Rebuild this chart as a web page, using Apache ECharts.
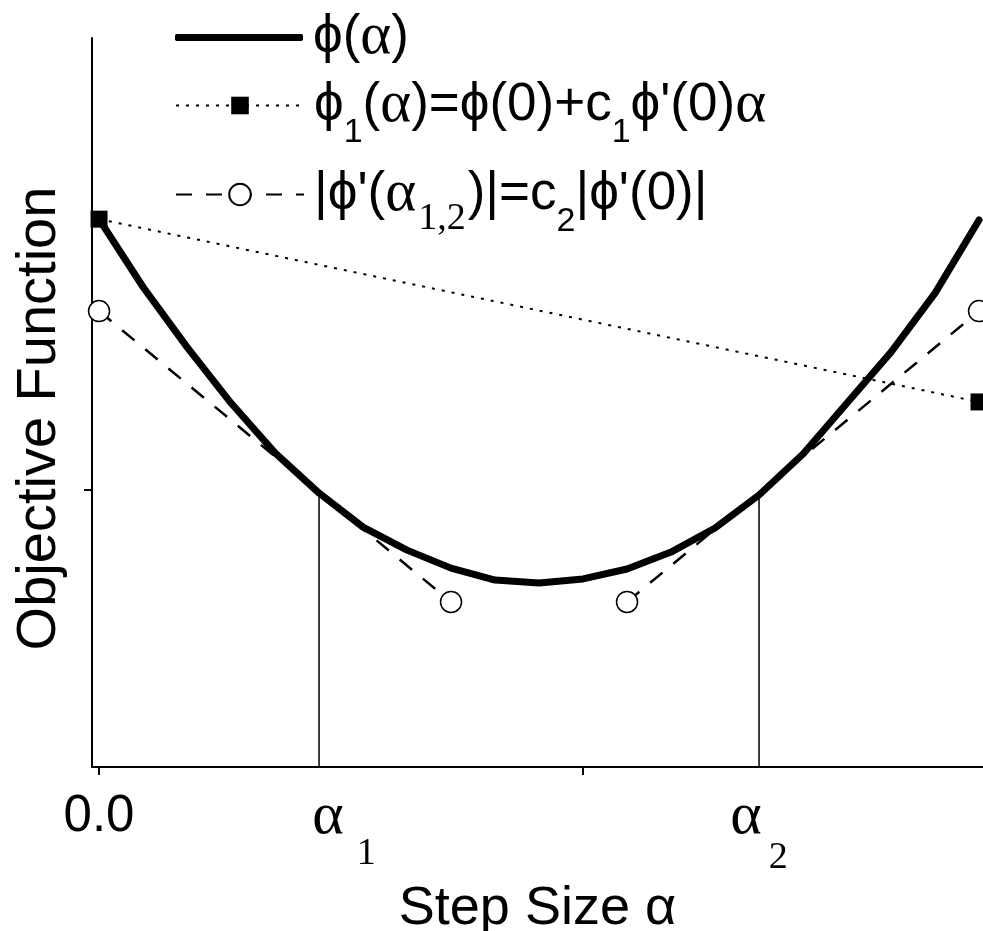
<!DOCTYPE html>
<html>
<head>
<meta charset="utf-8">
<script src="https://cdn.jsdelivr.net/npm/echarts@6/dist/echarts.min.js"></script>
<style>html,body{margin:0;padding:0;background:#fff;}#c{width:983px;height:931px;}</style>
</head>
<body>
<div id="c"></div>
<script>
// ---- data ----
const stepX = [0.0, 0.1, 0.2, 0.3, 0.4, 0.5, 0.6, 0.7, 0.8, 0.9, 1.0, 1.1, 1.2, 1.3, 1.4, 1.5, 1.6, 1.7, 1.8, 1.9, 2.0];
const phiY = [1.978, 1.733, 1.516, 1.314, 1.134, 0.989, 0.866, 0.783, 0.718, 0.675, 0.664, 0.679, 0.715, 0.776, 0.863, 0.982, 1.130, 1.314, 1.498, 1.711, 1.975];
const armijoX = [0.0, 2.0];
const armijoY = [1.978, 1.318];
const curvX = [0.0, 0.8, null, 1.2, 2.0];
const curvY = [1.646, 0.596, null, 0.596, 1.646];
const alphaX = [0.5, 1.5];
const alphaTop = [0.989, 0.982];
const xLabelPos = [0.0, 0.5, 1.5];
const xLabelText = ['0.0', 'α1', 'α2'];
const xTickPos = [0.0, 1.1];
const yTickPos = [1.0];
const seriesNames = ['ϕ(α)', 'ϕ1(α)=ϕ(0)+c1ϕ\'(0)α', '|ϕ\'(α1,2)|=c2|ϕ\'(0)|'];

// ---- build ----
const zip = (xs, ys) => xs.map((x, i) => (x === null ? [null, null] : [x, ys[i]]));
const chart = echarts.init(document.getElementById('c'), null, {renderer: 'canvas'});
const SANS = 'Liberation Sans, Arial, sans-serif';
const SERIF = 'Liberation Serif, Times New Roman, serif';
const FS = 53;
const LH = 88;
const richText = {
  t: {fontFamily: SANS, fontSize: FS, color: '#000', lineHeight: LH, verticalAlign: 'middle'},
  g: {fontFamily: SERIF, fontSize: FS + 6, color: '#000', lineHeight: LH, verticalAlign: 'middle'},
  s: {fontFamily: SANS, fontSize: 34, color: '#000', lineHeight: 34, verticalAlign: 'bottom'},
  ss: {fontFamily: SERIF, fontSize: 38, color: '#000', lineHeight: 34, verticalAlign: 'bottom', padding: [0, 2, 0, 2]}
};
const legendFmt = {};
legendFmt[seriesNames[0]] = '{t|ϕ(}{g|α}{t|)}';
legendFmt[seriesNames[1]] = '{t|ϕ}{s|1}{t|(}{g|α}{t|)=ϕ(0)+c}{s|1}{t|ϕ\'(0)}{g|α}';
legendFmt[seriesNames[2]] = '{t||ϕ\'(}{g|α}{ss|1,2}{t|)|=c}{s|2}{t||ϕ\'(0)|}';

function legendCfg(name, top, itemH, icon) {
  const d = {name: name};
  if (icon) d.icon = icon;
  return {
    data: [d], left: 175, top: top, itemWidth: 128, itemHeight: itemH,
    selectedMode: false, padding: 0,
    formatter: n => legendFmt[n],
    textStyle: {rich: richText, padding: [0, 0, 0, 5]}
  };
}

const vSeries = alphaX.map((x, i) => ({
  type: 'line', data: [[x, 0], [x, alphaTop[i]]], symbol: 'none', silent: true,
  lineStyle: {color: '#000', width: 1.5}, z: 1
}));

const option = {
  animation: false,
  backgroundColor: '#fff',
  grid: {left: 92, right: 0, top: 38, bottom: 164, containLabel: false, outerBoundsMode: 'none'},
  legend: [
    legendCfg(seriesNames[0], 52 - LH / 2, 7, 'roundRect'),
    legendCfg(seriesNames[1], 120 - LH / 2, 22),
    legendCfg(seriesNames[2], 209 - LH / 2, 27)
  ],
  xAxis: {
    type: 'value', min: -0.016, max: 2.009,
    name: 'Step Size α', nameLocation: 'middle', nameGap: 91,
    nameTextStyle: {fontFamily: SANS, fontSize: 54, color: '#000'},
    axisLine: {show: true, onZero: false, lineStyle: {color: '#000', width: 2}},
    axisTick: {show: true, length: 8, lineStyle: {color: '#000', width: 2}, customValues: xTickPos},
    splitLine: {show: false},
    axisLabel: {
      customValues: xLabelPos, margin: 24,
      formatter: v => {
        const i = xLabelPos.indexOf(v);
        const s = i >= 0 ? xLabelText[i] : '';
        if (s === '0.0') return '{n|0.0}';
        const k = i === 1 ? '1' : '2';
        return '{a' + k + '|α}{b' + k + '|' + s.slice(1) + '}';
      },
      rich: {
        n: {fontFamily: SANS, fontSize: 51, color: '#000', lineHeight: 60, verticalAlign: 'top'},
        a1: {fontFamily: SERIF, fontSize: 60, color: '#000', lineHeight: 60, verticalAlign: 'top', padding: [-4, 0, 0, 50]},
        b1: {fontFamily: SERIF, fontSize: 38, color: '#000', lineHeight: 40, verticalAlign: 'bottom', padding: [0, 0, -22, 13]},
        a2: {fontFamily: SERIF, fontSize: 60, color: '#000', lineHeight: 60, verticalAlign: 'top', padding: [-4, 0, 0, 0]},
        b2: {fontFamily: SERIF, fontSize: 38, color: '#000', lineHeight: 40, verticalAlign: 'bottom', padding: [0, 0, -26, 7]}
      }
    }
  },
  yAxis: {
    type: 'value', min: 0, max: 2.632,
    name: 'Objective Function', nameLocation: 'middle', nameGap: 24, nameRotate: 90,
    nameTextStyle: {fontFamily: SANS, fontSize: 56, color: '#000', padding: [0, 32, 0, 0]},
    axisLine: {show: true, onZero: false, lineStyle: {color: '#000', width: 2}},
    axisTick: {show: true, length: 8, lineStyle: {color: '#000', width: 2}, customValues: yTickPos},
    axisLabel: {show: false},
    splitLine: {show: false}
  },
  series: [
    ...vSeries,
    {
      name: seriesNames[0], type: 'line', data: zip(stepX, phiY), symbol: 'none',
      lineStyle: {color: '#000', width: 7, cap: 'round', join: 'round'}, itemStyle: {color: '#000'}, z: 3, clip: false
    },
    {
      name: seriesNames[1], type: 'line', data: zip(armijoX, armijoY), symbol: 'rect', symbolSize: 17,
      lineStyle: {color: '#000', width: 2, type: [3, 7]}, itemStyle: {color: '#000'}, z: 4, clip: false
    },
    {
      name: seriesNames[2], type: 'line', data: zip(curvX, curvY), symbol: 'circle', symbolSize: 21,
      connectNulls: false,
      lineStyle: {color: '#000', width: 2.5, type: [16, 14]},
      itemStyle: {color: '#fff', borderColor: '#000', borderWidth: 1.5}, z: 4, clip: false
    }
  ]
};
chart.setOption(option);
</script>
</body>
</html>
